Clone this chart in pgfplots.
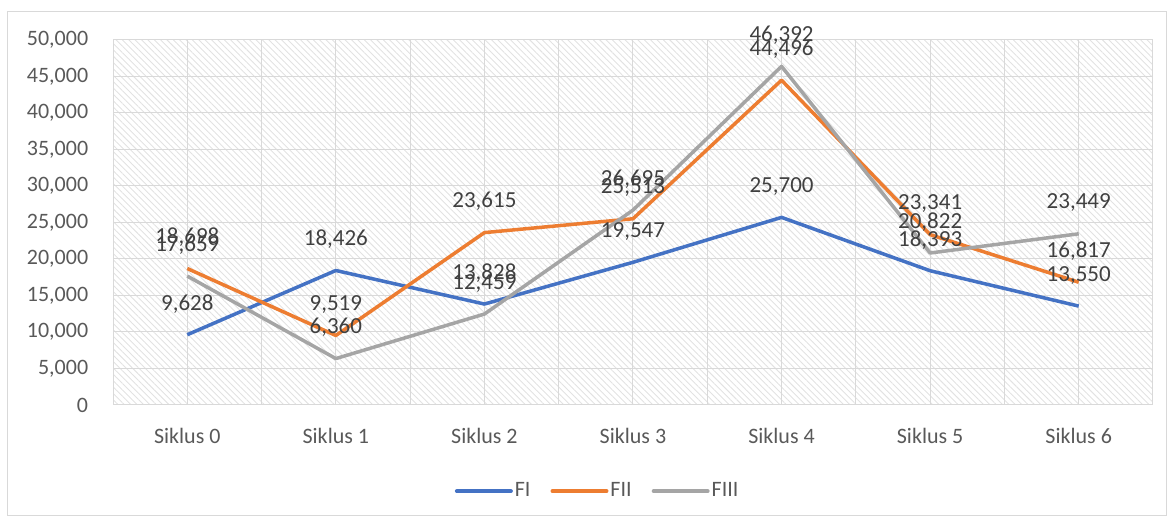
\documentclass[border=0pt]{standalone}
\usepackage{fontspec}
\setmainfont{Carlito}
\usepackage{pgfplots}
\pgfplotsset{compat=1.18}
\usetikzlibrary{patterns.meta}
\definecolor{cFI}{HTML}{4472C4}
\definecolor{cFII}{HTML}{ED7D31}
\definecolor{cFIII}{HTML}{A5A5A5}
\definecolor{txt}{HTML}{595959}
\definecolor{lbl}{HTML}{404040}
\definecolor{gridc}{HTML}{D9D9D9}
\definecolor{hatch}{HTML}{E2E2E2}
\begin{document}
\fontsize{23bp}{27bp}\selectfont
\begin{tikzpicture}
\path[use as bounding box] (0bp,0bp) rectangle (1173bp,522bp);
\draw[gridc, line width=1bp] (7bp,6bp) rectangle (1166bp,510bp);
\begin{axis}[
  at={(113bp,117bp)}, anchor=south west,
  scale only axis, width=1040bp, height=365bp,
  xmin=-0.5, xmax=6.5, ymin=0, ymax=50000,
  xtick={0,...,6},
  xticklabels={Siklus 0,Siklus 1,Siklus 2,Siklus 3,Siklus 4,Siklus 5,Siklus 6},
  minor xtick={-0.5,0.5,...,6.5},
  ytick={0,5000,...,50000},
  scaled y ticks=false,
  /pgf/number format/.cd, 1000 sep={,}, fixed, precision=0, assume math mode=true,
  /pgfplots/.cd,
  grid=both,
  major grid style={gridc, line width=1bp},
  minor grid style={gridc, line width=1bp},
  major tick length=0pt, minor tick length=0pt,
  axis line style={draw=none},
  axis background/.style={pattern={Lines[angle=-45,distance=4.5bp,line width=0.9bp]}, pattern color=hatch},
  tick label style={font=\fontsize{22bp}{26bp}\selectfont, text=txt},
  yticklabel style={xshift=-17bp},
  xticklabel style={yshift=-15bp},
  every axis plot/.append style={line width=3.5bp, line join=round, no markers},
  nodes near coords,
  every node near coord/.append style={anchor=center, yshift=31bp, text=lbl, font=\fontsize{23bp}{27bp}\selectfont},
  legend style={at={(0.466,-0.236)}, anchor=center, draw=none, fill=none, legend columns=-1,
    font=\fontsize{22bp}{26bp}\selectfont, text=txt,
    /tikz/every even column/.append style={column sep=18bp}},
  legend image code/.code={\draw[#1, line width=4bp, line cap=round] (0bp,0bp) -- (54bp,0bp);},
]
\addplot[cFI] coordinates {(0,9628) (1,18426) (2,13828) (3,19547) (4,25700) (5,18393) (6,13550)};
\addlegendentry{FI}
\addplot[cFII] coordinates {(0,18698) (1,9519) (2,23615) (3,25513) (4,44496) (5,23341) (6,16817)};
\addlegendentry{FII}
\addplot[cFIII] coordinates {(0,17659) (1,6360) (2,12459) (3,26695) (4,46392) (5,20822) (6,23449)};
\addlegendentry{FIII}
\draw[gridc, line width=1bp] (axis cs:-0.5,0) -- (axis cs:6.5,0);
\end{axis}
\end{tikzpicture}
\end{document}
